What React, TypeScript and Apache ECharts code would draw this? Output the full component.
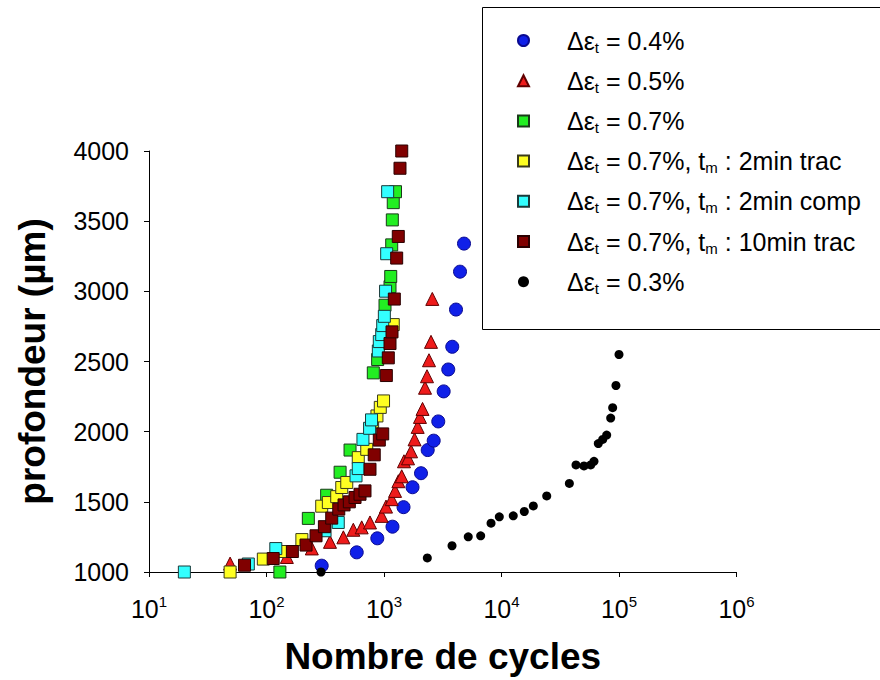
import React, { useEffect, useRef } from "react";
import * as echarts from "echarts";

const seriesNames = [
  "Δεt = 0.4%",
  "Δεt = 0.5%",
  "Δεt = 0.7%",
  "Δεt = 0.7%, tm : 2min trac",
  "Δεt = 0.7%, tm : 2min comp",
  "Δεt = 0.7%, tm : 10min trac",
  "Δεt = 0.3%",
];

const yTicks = [1000, 1500, 2000, 2500, 3000, 3500, 4000];

const blue04: number[][] = [
  [295, 1045], [586, 1140], [877, 1240], [1181, 1323], [1466, 1462], [1749, 1604],
  [2065, 1704], [2355, 1869], [2648, 1936], [2897, 2073], [3219, 2287], [3524, 2443],
  [3810, 2605], [4100, 2870], [4436, 3140], [4797, 3340],
];

const red05: number[][] = [
  [49, 1060], [149, 1107], [243, 1168], [347, 1215], [451, 1247], [548, 1301],
  [646, 1318], [760, 1353], [955, 1400], [1040, 1466], [1164, 1519], [1242, 1578],
  [1325, 1647], [1415, 1682], [1479, 1789], [1601, 1810], [1699, 1860], [1820, 1945],
  [1935, 2034], [2023, 2105], [2128, 2162], [2234, 2313], [2323, 2395], [2415, 2509],
  [2512, 2640], [2576, 2946],
];

const green07: number[][] = [
  [130, 1000], [227, 1382], [325, 1547], [423, 1711], [514, 1869], [811, 2419],
  [883, 2514], [1020, 2901], [1125, 3033], [1141, 3106], [1163, 3331], [1177, 3509],
  [1199, 3632], [1253, 3710],
];

const yellow2minTrac: number[][] = [
  [49, 1000], [94, 1092], [142, 1146], [200, 1231], [295, 1469], [336, 1495],
  [396, 1537], [437, 1602], [482, 1638], [604, 1815], [713, 1874], [800, 2070],
  [871, 2112], [930, 2173], [991, 2219], [1199, 2763],
];

const cyan2minComp: number[][] = [
  [20, 1000], [70, 1057], [120, 1167], [315, 1294], [408, 1353], [578, 1685],
  [604, 1737], [662, 1945], [754, 2024], [783, 2084], [895, 2575], [912, 2642],
  [956, 2692], [975, 2756], [1007, 2822], [1031, 3001], [1054, 3268], [1074, 3710],
];

const brown10minTrac: number[][] = [
  [65, 1048], [114, 1096], [166, 1146], [217, 1192], [264, 1258], [311, 1323],
  [359, 1384], [412, 1448], [457, 1478], [507, 1500], [567, 1531], [625, 1554],
  [689, 1578], [760, 1732], [826, 1835], [912, 1940], [975, 1984], [1047, 2400],
  [1088, 2526], [1125, 2628], [1170, 2711], [1224, 2945], [1282, 3237], [1323, 3391],
  [1368, 3877], [1416, 4000],
];

const black03: number[][] = [
  [291, 1000], [2337, 1100], [3793, 1187], [5212, 1251], [6650, 1258], [8147, 1348],
  [9580, 1393], [12590, 1400], [15630, 1431], [18650, 1471], [24260, 1542],
  [37800, 1631], [43050, 1763], [50350, 1756], [57400, 1763], [61250, 1789],
  [66650, 1915], [72650, 1945], [78550, 1976], [84950, 2097], [88300, 2171],
  [94200, 2329], [100000, 2550],
];

const FONT = "Liberation Sans, Arial, sans-serif";

export default function App() {
  const ref = useRef<HTMLDivElement>(null);

  useEffect(() => {
    if (!ref.current) return;
    const chart = echarts.init(ref.current, undefined, { renderer: "svg" });

    const mk = (
      name: string,
      data: number[][],
      symbol: string,
      size: number,
      color: string,
      border: string,
      bw: number
    ) => ({
      name,
      type: "scatter",
      data,
      symbol,
      symbolSize: size,
      clip: false,
      itemStyle: { color, borderColor: border, borderWidth: bw, opacity: 1 },
      emphasis: { disabled: true },
    });

    const option: any = {
      animation: false,
      backgroundColor: "#ffffff",
      textStyle: { fontFamily: FONT },
      grid: { left: 149, right: 143.5, top: 151, bottom: 107, containLabel: false },
      xAxis: {
        type: "log",
        logBase: 10,
        min: 10,
        max: 1000000,
        splitLine: { show: false },
        minorTick: { show: false },
        axisLine: { show: true, onZero: false, lineStyle: { color: "#000", width: 1 } },
        axisTick: { show: true, inside: false, length: 5, lineStyle: { color: "#000" } },
        axisLabel: {
          margin: 22,
          color: "#000",
          formatter: (v: number) => `{b|10}{p|${Math.round(Math.log10(v))}}`,
          rich: {
            b: { fontFamily: FONT, fontSize: 25, lineHeight: 30, color: "#000" },
            p: { fontFamily: FONT, fontSize: 15, lineHeight: 15, verticalAlign: "top", color: "#000" },
          },
        },
        name: "Nombre de cycles",
        nameLocation: "middle",
        nameGap: 66,
        nameTextStyle: { fontFamily: FONT, fontSize: 37, fontWeight: "bold", color: "#000" },
      },
      yAxis: {
        type: "value",
        min: yTicks[0],
        max: yTicks[yTicks.length - 1],
        interval: 500,
        splitLine: { show: false },
        axisLine: { show: true, lineStyle: { color: "#000", width: 1 } },
        axisTick: { show: true, inside: false, length: 5, lineStyle: { color: "#000" } },
        axisLabel: {
          margin: 20,
          color: "#000",
          fontFamily: FONT,
          fontSize: 25,
          formatter: (v: number) => String(v),
        },
        name: "profondeur (µm)",
        nameLocation: "middle",
        nameGap: 98,
        nameTextStyle: { fontFamily: FONT, fontSize: 37, fontWeight: "bold", color: "#000" },
      },
      legend: {
        show: true,
        orient: "vertical",
        left: 517,
        top: 28,
        padding: 0,
        itemWidth: 11,
        itemHeight: 11,
        itemGap: 13.7,
        selectedMode: false,
        data: seriesNames,
        formatter: (name: string) => {
          let s = "{sp|}{n|Δε}{s|t}{n|" + name.slice(3);
          s = s.replace(", tm", ", t}{s|m}{n|");
          return s + "}";
        },
        textStyle: {
          fontFamily: FONT,
          color: "#000",
          rich: {
            sp: { width: 33 },
            n: { fontFamily: FONT, fontSize: 25, lineHeight: 28, color: "#000" },
            s: { fontFamily: FONT, fontSize: 15, lineHeight: 14, verticalAlign: "bottom", color: "#000" },
          },
        },
      },
      graphic: [
        {
          type: "rect",
          shape: { x: 482.5, y: 7.5, width: 420, height: 322 },
          style: { fill: "none", stroke: "#000", lineWidth: 1 },
          z: 0,
        },
      ],
      series: [
        mk(seriesNames[0], blue04, "circle", 13, "#1020e8", "#0a0a90", 1),
        mk(seriesNames[1], red05, "triangle", 13, "#ee1b1b", "#600000", 1),
        mk(seriesNames[2], green07, "rect", 12, "#22ee22", "#1a3a1a", 1),
        mk(seriesNames[3], yellow2minTrac, "rect", 12, "#ffff22", "#3a3a1a", 1),
        mk(seriesNames[4], cyan2minComp, "rect", 12, "#33ffff", "#1a3a3a", 1),
        mk(seriesNames[5], brown10minTrac, "rect", 12, "#800000", "#2a0000", 1),
        mk(seriesNames[6], black03, "circle", 9, "#000000", "#000000", 0),
      ],
    };

    chart.setOption(option);
    return () => chart.dispose();
  }, []);

  return (
    <div
      ref={ref}
      style={{ position: "fixed", left: 0, top: 0, width: 880, height: 680, background: "#fff" }}
    />
  );
}
